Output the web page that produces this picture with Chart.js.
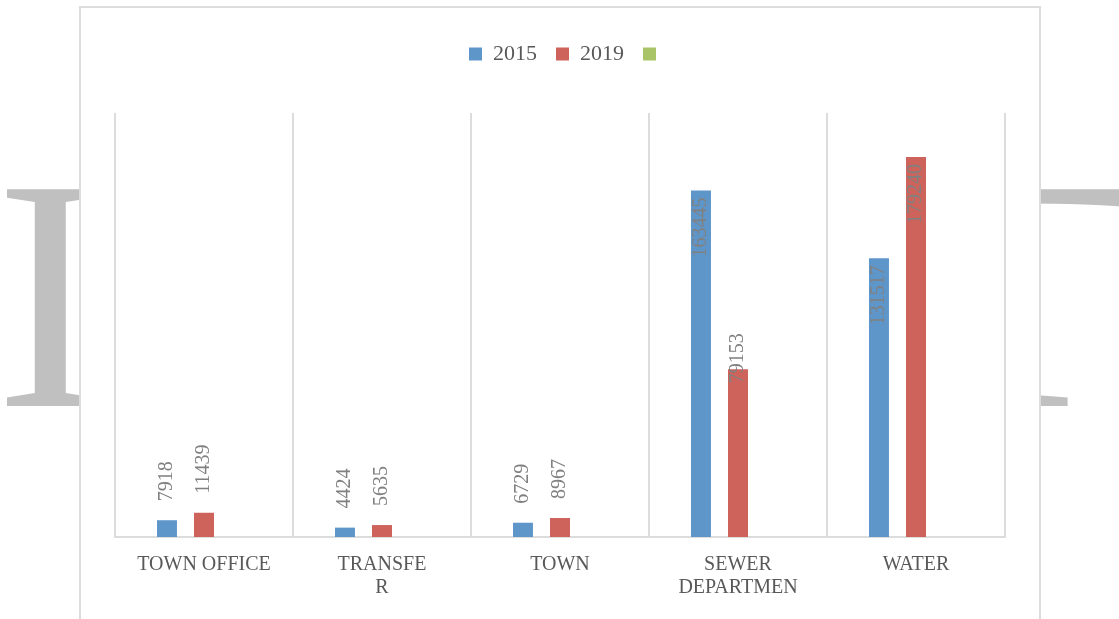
<!DOCTYPE html>
<html>
<head>
<meta charset="utf-8">
<script src="https://cdn.jsdelivr.net/npm/chart.js@4.4.1/dist/chart.umd.min.js"></script>
<style>
  html, body { margin: 0; padding: 0; background: #fff; }
  body { width: 1119px; height: 619px; position: relative; overflow: hidden; }
  .mark { position: absolute; font-family: 'Liberation Serif', serif; font-size: 331px; line-height: 1; color: #c0c0c0; transform-origin: 0 0; }
  #chartBox { position: absolute; left: 79px; top: 6px; width: 962px; height: 700px; box-sizing: border-box; border: 2px solid #dcdcdc; background: #fff; }
  #chartWrap { position: absolute; left: 0; top: 0; width: 958px; height: 611px; }
</style>
</head>
<body>
<span class="mark" style="left:-5px; top:129px;">I</span>
<span class="mark" style="left:811px; top:129px; transform:scaleX(1.7);">T</span>
<div id="chartBox">
  <div id="chartWrap"><canvas id="chart"></canvas></div>
</div>
<script>
const categories = [['TOWN OFFICE'], ['TRANSFE', 'R'], ['TOWN'], ['SEWER', 'DEPARTMEN'], ['WATER']];
const seriesNames = ['2015', '2019', ''];
const values2015 = [7918, 4424, 6729, 163445, 131517];
const values2019 = [11439, 5635, 8967, 79153, 179240];
const values3 = [null, null, null, null, null];

const seriesColors = ['#5f96ca', '#cd635b', '#a9c466'];
const serif = 'Liberation Serif';

// more room under the legend, and centre the row without its trailing padding
const legendSpace = {
  id: 'legendSpace',
  beforeInit(chart) {
    const fit = chart.legend.fit;
    chart.legend.fit = function () {
      fit.call(this);
      this.height += 38;
      if (this.lineWidths) this.lineWidths[0] -= 16;
    };
  }
};

// value labels, turned on their side like the original
const barLabels = {
  id: 'barLabels',
  afterDatasetsDraw(chart) {
    const ctx = chart.ctx;
    ctx.save();
    ctx.font = '20px "' + serif + '"';
    ctx.fillStyle = '#808080';
    ctx.textBaseline = 'middle';
    chart.data.datasets.forEach((ds, i) => {
      chart.getDatasetMeta(i).data.forEach((bar, j) => {
        const v = ds.data[j];
        if (v == null) return;
        const h = bar.base - bar.y;
        ctx.save();
        ctx.translate(bar.x, bar.y);
        ctx.rotate(-Math.PI / 2);
        if (h > 250) {
          ctx.textAlign = 'right';
          ctx.fillText(String(v), -7, 0);
        } else if (h > 100) {
          ctx.textAlign = 'left';
          ctx.fillText(String(v), -14, 0);
        } else {
          ctx.textAlign = 'left';
          ctx.fillText(String(v), 19, 0);
        }
        ctx.restore();
      });
    });
    ctx.restore();
  }
};

const seriesData = [values2015, values2019, values3];

new Chart(document.getElementById('chart'), {
  type: 'bar',
  data: {
    labels: categories,
    datasets: seriesData.map((d, i) => ({
      label: seriesNames[i],
      data: d,
      backgroundColor: seriesColors[i],
      borderWidth: 0,
      categoryPercentage: 0.624,
      barPercentage: 0.54
    }))
  },
  options: {
    responsive: true,
    maintainAspectRatio: false,
    animation: false,
    layout: { padding: { left: 34, right: 34, top: 16, bottom: 4 } },
    plugins: {
      legend: {
        position: 'top',
        labels: {
          font: { family: serif, size: 22 },
          color: '#595959',
          boxWidth: 13,
          boxHeight: 13,
          padding: 19
        }
      },
      tooltip: { enabled: false }
    },
    scales: {
      x: {
        grid: { color: '#dcdcdc', lineWidth: 2, drawTicks: false, offset: true },
        border: { color: '#dcdcdc', width: 2 },
        ticks: {
          font: { family: serif, size: 20, lineHeight: 1.15 },
          color: '#595959',
          padding: 16,
          maxRotation: 0,
          autoSkip: false
        }
      },
      y: { display: false, min: 0, max: 200000 }
    }
  },
  plugins: [legendSpace, barLabels]
});
</script>
</body>
</html>
